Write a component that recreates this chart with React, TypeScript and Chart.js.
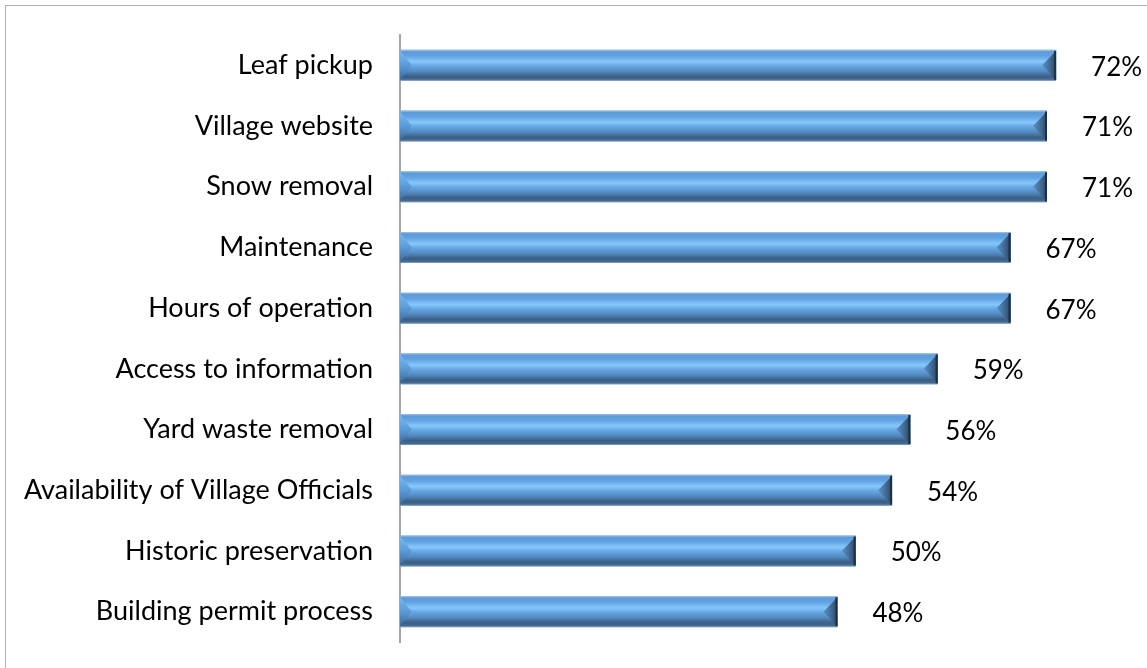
import React, { useEffect, useRef } from "react";
import { Chart, registerables } from "chart.js";

Chart.register(...registerables);

const categories: string[] = [
  "Leaf pickup",
  "Village website",
  "Snow removal",
  "Maintenance",
  "Hours of operation",
  "Access to information",
  "Yard waste removal",
  "Availability of Village Officials",
  "Historic preservation",
  "Building permit process",
];

const values: number[] = [72, 71, 71, 67, 67, 59, 56, 54, 50, 48];

const axisMin = 0;
const axisMax = 80;

const bevelPlugin = {
  id: "bevelBars",
  afterDatasetsDraw(chart: any) {
    const ctx: CanvasRenderingContext2D = chart.ctx;
    const meta = chart.getDatasetMeta(0);
    ctx.save();
    meta.data.forEach((bar: any, i: number) => {
      const { x, y, base, height } = bar.getProps(["x", "y", "base", "height"], true);
      const top = y - height / 2;
      const bottom = y + height / 2;
      const left = Math.min(base, x);
      const right = Math.max(base, x);
      const w = right - left;

      // body gradient
      const g = ctx.createLinearGradient(0, top, 0, bottom);
      g.addColorStop(0, "#a9c6e2");
      g.addColorStop(0.06, "#5d9ad8");
      g.addColorStop(0.2, "#62a3e3");
      g.addColorStop(0.38, "#86c8fb");
      g.addColorStop(0.52, "#66a6e2");
      g.addColorStop(0.7, "#5189c0");
      g.addColorStop(0.86, "#3b5e84");
      g.addColorStop(0.95, "#46698f");
      g.addColorStop(1, "#8aa6c2");
      ctx.fillStyle = g;
      ctx.fillRect(left, top, w, height);

      // left bevel
      const lb = height * 0.38;
      const lg = ctx.createLinearGradient(0, top, 0, bottom);
      lg.addColorStop(0, "#7dbcf0");
      lg.addColorStop(0.5, "#5a9ad8");
      lg.addColorStop(1, "#3c6690");
      ctx.fillStyle = lg;
      ctx.beginPath();
      ctx.moveTo(left, top + 1);
      ctx.lineTo(left + lb, y);
      ctx.lineTo(left, bottom - 1);
      ctx.closePath();
      ctx.fill();

      // right bevel
      const rb = height * 0.45;
      const rg = ctx.createLinearGradient(right - rb, 0, right, 0);
      rg.addColorStop(0, "#5a90c8");
      rg.addColorStop(0.6, "#3f6890");
      rg.addColorStop(1, "#2a4563");
      ctx.fillStyle = rg;
      ctx.beginPath();
      ctx.moveTo(right, top + 1);
      ctx.lineTo(right - rb, y);
      ctx.lineTo(right, bottom - 1);
      ctx.closePath();
      ctx.fill();
      ctx.fillStyle = "#1e2f42";
      ctx.fillRect(right - 2, top + 1, 2, height - 2);

      // value label
      ctx.fillStyle = "#000000";
      ctx.font = "26px Lato";
      ctx.textAlign = "left";
      ctx.textBaseline = "middle";
      ctx.fillText(values[i] + "%", right + 35, y + 2);
    });
    ctx.restore();
  },
};

export default function App() {
  const canvasRef = useRef<HTMLCanvasElement | null>(null);

  useEffect(() => {
    if (!canvasRef.current) return;
    const chart = new Chart(canvasRef.current, {
      type: "bar",
      data: {
        labels: categories,
        datasets: [
          {
            data: values,
            backgroundColor: "#5b9bd5",
            borderWidth: 0,
            barPercentage: 0.51,
            categoryPercentage: 1,
          },
        ],
      },
      options: {
        indexAxis: "y",
        animation: false,
        responsive: false,
        maintainAspectRatio: false,
        layout: { padding: { left: 0, top: 35, bottom: 26, right: 18 } },
        plugins: {
          legend: { display: false },
          tooltip: { enabled: false },
          title: { display: false },
        },
        scales: {
          x: {
            display: false,
            min: axisMin,
            max: axisMax,
          },
          y: {
            grid: { display: false, drawTicks: false },
            border: { display: true, color: "#a6a6a6", width: 2 },
            ticks: {
              color: "#000000",
              font: { family: "Lato", size: 27 },
              padding: 27,
              autoSkip: false,
            },
            afterFit(scale: any) {
              scale.width = 400;
              scale.paddingTop = 0;
              scale.paddingBottom = 0;
            },
          },
        },
      },
      plugins: [bevelPlugin],
    } as any);
    return () => chart.destroy();
  }, []);

  return (
    <div
      style={{
        position: "absolute",
        left: 0,
        top: 0,
        width: 1147,
        height: 668,
        overflow: "hidden",
        background: "#ffffff",
      }}
    >
      <div
        style={{
          position: "absolute",
          left: 5,
          top: 5,
          width: 1200,
          height: 700,
          border: "1px solid #b0b0b0",
        }}
      />
      <canvas
        ref={canvasRef}
        width={1147}
        height={668}
        style={{ position: "absolute", left: 0, top: 0, width: 1147, height: 668 }}
      />
    </div>
  );
}
